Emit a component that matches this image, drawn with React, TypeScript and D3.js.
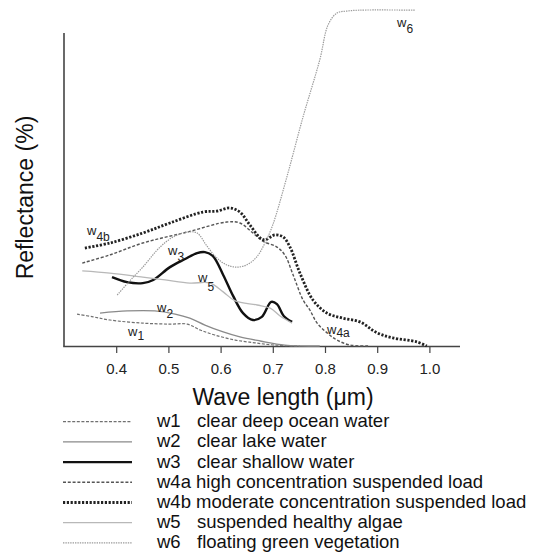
import React from "react";
import * as d3 from "d3";

// Spectral reflectance of water bodies (wavelength in µm, reflectance in relative %)
type Pt = [number, number];

const w1: Pt[] = [
  [0.324, 10.2], [0.355, 9.3], [0.387, 8.3], [0.45, 7.3], [0.502, 7.0], [0.535, 7.0],
  [0.56, 5.1], [0.588, 3.5], [0.627, 1.9], [0.665, 1.0], [0.703, 0.3], [0.751, 0],
];
const w2: Pt[] = [
  [0.368, 10.5], [0.42, 11.2], [0.473, 11.2], [0.512, 10.2], [0.54, 8.9], [0.569, 6.7],
  [0.604, 4.5], [0.636, 2.9], [0.675, 1.6], [0.722, 0.3], [0.789, 0],
];
const w3: Pt[] = [
  [0.391, 22.0], [0.42, 20.4], [0.45, 20.1], [0.47, 21.1], [0.502, 25.2], [0.531, 27.8],
  [0.554, 29.7], [0.569, 30.0], [0.584, 28.8], [0.604, 22.7], [0.623, 16.0], [0.642, 10.5],
  [0.661, 8.3], [0.678, 9.3], [0.696, 14.1], [0.707, 13.4], [0.72, 9.6], [0.736, 7.7],
];
const w4a: Pt[] = [
  [0.334, 26.5], [0.387, 29.1], [0.45, 32.9], [0.535, 36.4], [0.611, 39.6], [0.636, 39.3],
  [0.661, 36.1], [0.68, 33.5], [0.707, 31.6], [0.722, 29.1], [0.738, 22.7], [0.757, 14.7],
  [0.77, 11.5], [0.784, 7.3], [0.803, 4.2], [0.822, 1.9], [0.847, 0.3], [0.885, 0],
];
const w4b: Pt[] = [
  [0.339, 31.3], [0.387, 32.9], [0.45, 36.1], [0.502, 39.3], [0.565, 42.8], [0.592, 43.1],
  [0.617, 44.1], [0.636, 42.8], [0.655, 38.7], [0.675, 34.5], [0.684, 33.9], [0.703, 35.5],
  [0.719, 34.8], [0.732, 31.6], [0.751, 23.3], [0.776, 14.7], [0.803, 10.5], [0.833, 8.9],
  [0.866, 7.7], [0.899, 4.2], [0.929, 2.6], [0.975, 1.3], [0.994, 0],
];
const w5: Pt[] = [
  [0.334, 24.0], [0.387, 23.3], [0.45, 22.0], [0.493, 21.1], [0.54, 20.1], [0.579, 20.1],
  [0.604, 17.3], [0.627, 14.4], [0.669, 13.1], [0.694, 12.1], [0.713, 9.6], [0.736, 7.3],
];
const w6: Pt[] = [
  [0.401, 16.3], [0.425, 20.8], [0.45, 25.2], [0.483, 31.6], [0.508, 34.8], [0.535, 36.4],
  [0.554, 36.1], [0.573, 31.9], [0.592, 28.1], [0.611, 25.9], [0.63, 25.2], [0.649, 25.9],
  [0.668, 28.4], [0.684, 32.9], [0.699, 38.7], [0.726, 54.0], [0.757, 73.2], [0.789, 91.4],
  [0.805, 102.6], [0.822, 106.4], [0.841, 107.0], [0.866, 107.3], [0.971, 107.3],
];

const xTicks = [0.4, 0.5, 0.6, 0.7, 0.8, 0.9, 1.0];
const legendCodes = ["w1", "w2", "w3", "w4a", "w4b", "w5", "w6"];
const legendNames = [
  "clear deep ocean water",
  "clear lake water",
  "clear shallow water",
  "high concentration suspended load",
  "moderate concentration suspended load",
  "suspended healthy algae",
  "floating green vegetation",
];

type Style = { stroke: string; width: number; dash?: string };
const styles: Style[] = [
  { stroke: "#707070", width: 1.2, dash: "3,1.6" },
  { stroke: "#8a8a8a", width: 1.3 },
  { stroke: "#111", width: 2.4 },
  { stroke: "#555", width: 1.4, dash: "3,1.8" },
  { stroke: "#222", width: 2.8, dash: "2.2,1.6" },
  { stroke: "#b8b8b8", width: 1.3 },
  { stroke: "#9a9a9a", width: 1.2, dash: "1.4,1" },
];
const series: Pt[][] = [w1, w2, w3, w4a, w4b, w5, w6];

// in-plot labels: subscript text, position (px), subscript drop
const curveLabels = [
  { sub: "1", x: 128, y: 336, dy: 4 },
  { sub: "2", x: 157, y: 312, dy: 6 },
  { sub: "3", x: 168, y: 255, dy: 6 },
  { sub: "4a", x: 327, y: 334, dy: 3 },
  { sub: "4b", x: 87, y: 235, dy: 6 },
  { sub: "5", x: 198, y: 282, dy: 9 },
  { sub: "6", x: 397, y: 27, dy: 6 },
];

const FONT = "'Liberation Sans', Arial, Helvetica, sans-serif";

export default function App() {
  const W = 534;
  const H = 553;
  const x = d3.scaleLinear().domain([0.3, 1.0]).range([64.5, 429.9]);
  const y = d3.scaleLinear().domain([0, 100]).range([346, 33]);
  const line = d3
    .line<Pt>()
    .x((d) => x(d[0]))
    .y((d) => y(d[1]))
    .curve(d3.curveCatmullRom.alpha(0.5));

  const axisColor = "#444";
  const legendTop = 421.7;
  const legendStep = 20.2;

  return (
    <svg
      width={W}
      height={H}
      style={{ position: "absolute", left: 0, top: 0, background: "#fff" }}
      fontFamily={FONT}
    >
      {/* axes */}
      <line x1={64} y1={33} x2={64} y2={346.5} stroke={axisColor} strokeWidth={1.6} />
      <line x1={63.2} y1={346.5} x2={460} y2={346.5} stroke={axisColor} strokeWidth={1.6} />
      {xTicks.map((t) => (
        <g key={t}>
          <line x1={x(t)} x2={x(t)} y1={346.5} y2={353} stroke={axisColor} strokeWidth={1.2} />
          <text x={x(t)} y={374} fontSize={15} textAnchor="middle" fill="#222">
            {t.toFixed(1)}
          </text>
        </g>
      ))}

      {/* curves */}
      {series.map((s, i) => (
        <path
          key={i}
          d={line(s) || ""}
          fill="none"
          stroke={styles[i].stroke}
          strokeWidth={styles[i].width}
          strokeDasharray={styles[i].dash}
          strokeLinejoin="round"
        />
      ))}

      {/* curve labels */}
      {curveLabels.map((l, i) => (
        <text key={i} x={l.x} y={l.y} fontSize={13} fill="#222">
          w
          <tspan dy={l.dy} fontSize={12}>
            {l.sub}
          </tspan>
        </text>
      ))}

      {/* axis titles */}
      <text
        transform="translate(33,197.5) rotate(-90)"
        textAnchor="middle"
        fontSize={23}
        fill="#111"
      >
        Reflectance (%)
      </text>
      <text x={283} y={405} textAnchor="middle" fontSize={23} fill="#111">
        Wave length (μm)
      </text>

      {/* legend */}
      {legendCodes.map((code, i) => {
        const ly = legendTop + i * legendStep;
        const st = styles[i];
        const long = code.length > 2;
        return (
          <g key={code}>
            <line
              x1={63}
              x2={132}
              y1={ly}
              y2={ly}
              stroke={st.stroke}
              strokeWidth={st.width}
              strokeDasharray={st.dash}
            />
            <text x={157} y={ly + 5.5} fontSize={18.5} fill="#111">
              {long ? `${code} ${legendNames[i]}` : code}
              {long ? null : <tspan x={197}>{legendNames[i]}</tspan>}
            </text>
          </g>
        );
      })}
    </svg>
  );
}
